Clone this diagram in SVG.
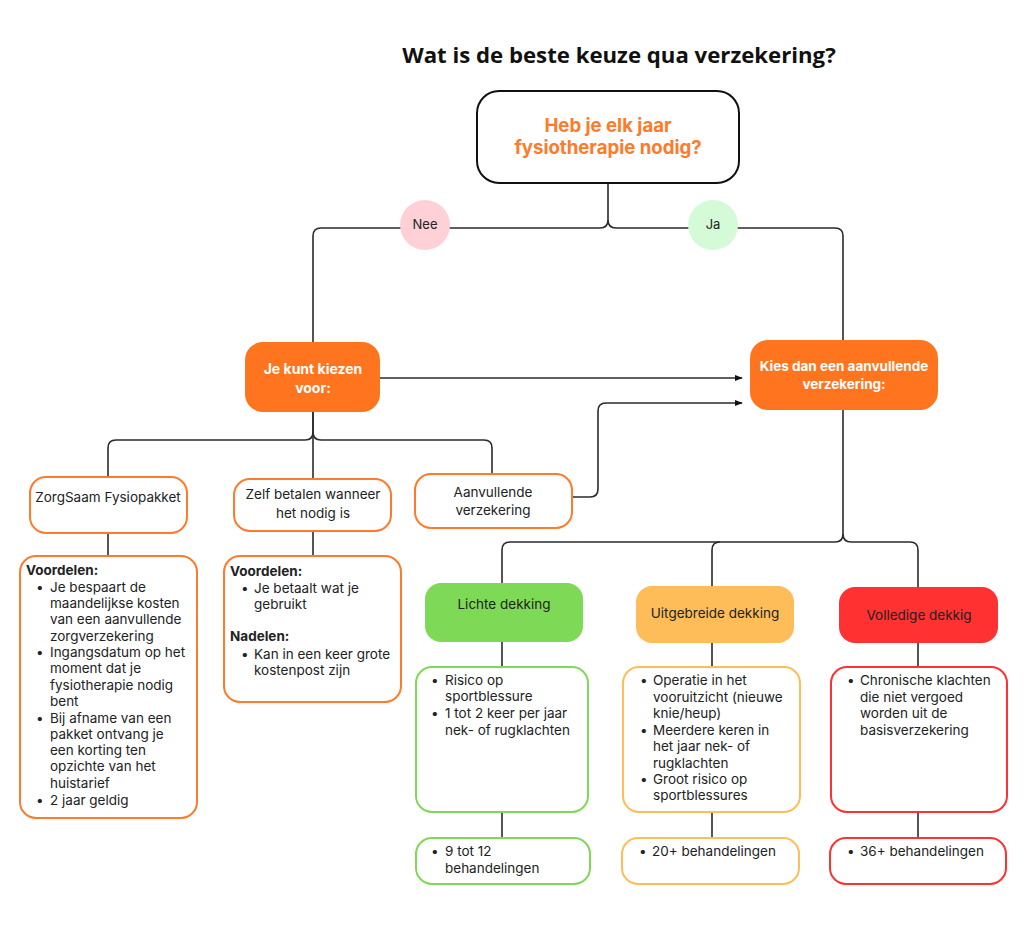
<svg xmlns="http://www.w3.org/2000/svg" width="1024" height="929" viewBox="0 0 1024 929">
<defs>
<style>
.t{font-family:Inter,"DejaVu Sans",sans-serif;font-size:13.5px;fill:#222}
.b{font-weight:700}
.c{text-anchor:middle}
.w{fill:#fff;font-weight:700;font-size:14px}
.ob{fill:#fff;stroke:#FF7A2A;stroke-width:2}
.line{fill:none;stroke:#2b2b2b;stroke-width:1.6}
</style>
<marker id="ah" viewBox="0 0 10 10" refX="9" refY="5" markerWidth="5" markerHeight="5" orient="auto"><path d="M0,1 L10,5 L0,9 z" fill="#111"/></marker>
</defs>
<rect width="1024" height="929" fill="#fff"/>
<text x="619" y="63" class="c" style="font-family:'Open Sans',sans-serif;font-weight:700;font-size:22.2px;fill:#111">Wat is de beste keuze qua verzekering?</text>

<g id="connectors">
<path class="line" d="M608 183 V220 Q608 228 600 228 H321 Q313 228 313 236 V342"/>
<path class="line" d="M608 220 Q608 228 616 228 H835 Q843 228 843 236 V340"/>
<path class="line" d="M380 378 H742" marker-end="url(#ah)"/>
<path class="line" d="M572 497 H590 Q598 497 598 489 V411 Q598 403 606 403 H742" marker-end="url(#ah)"/>
<path class="line" d="M313 412 V432 Q313 440 305 440 H116 Q108 440 108 448 V477"/>
<path class="line" d="M313 432 Q313 440 321 440 H484 Q492 440 492 448 V474"/>
<path class="line" d="M313 412 V479"/>
<path class="line" d="M108 533 V556"/>
<path class="line" d="M313 531 V556"/>
<path class="line" d="M843 410 V534 Q843 542 835 542 H510 Q502 542 502 550 V583"/>
<path class="line" d="M843 534 Q843 542 851 542 H910 Q918 542 918 550 V587"/>
<path class="line" d="M720 542 Q712 542 712 550 V586"/>
<path class="line" d="M502 642 V667 M502 812 V838"/>
<path class="line" d="M712 643 V667 M712 812 V838"/>
<path class="line" d="M918 643 V667 M918 812 V838"/>
</g>

<g id="q1">
<rect x="477" y="91" width="262" height="92" rx="22" fill="#fff" stroke="#111" stroke-width="2"/>
<text x="608" y="132" class="t b c" style="fill:#FF7A2A;font-size:18.6px">Heb je elk jaar</text>
<text x="608" y="154" class="t b c" style="fill:#FF7A2A;font-size:18.6px">fysiotherapie nodig?</text>
</g>
<g id="nee"><circle cx="425" cy="225" r="25" fill="#FFD0D6"/><text x="425" y="229" class="t c" style="font-size:13px">Nee</text></g>
<g id="ja"><circle cx="713" cy="225" r="25" fill="#D5FAD8"/><text x="713" y="229" class="t c" style="font-size:13px">Ja</text></g>

<g id="kiezen">
<rect x="245" y="342" width="135" height="70" rx="18" fill="#FF751F"/>
<text x="313" y="374" class="t c w">Je kunt kiezen</text>
<text x="313" y="393" class="t c w">voor:</text>
</g>
<g id="kies">
<rect x="750" y="340" width="188" height="70" rx="18" fill="#FF751F"/>
<text x="844" y="371" class="t c w" style="font-size:13.5px">Kies dan een aanvullende</text>
<text x="844" y="389" class="t c w" style="font-size:13.5px">verzekering:</text>
</g>

<g id="zorgsaam">
<rect x="30" y="477" width="157" height="56" rx="16" class="ob"/>
<text x="108" y="502" class="t c">ZorgSaam Fysiopakket</text>
</g>
<g id="zelf">
<rect x="234" y="479" width="157" height="52" rx="16" class="ob"/>
<text x="313" y="499" class="t c">Zelf betalen wanneer</text>
<text x="313" y="518" class="t c">het nodig is</text>
</g>
<g id="aanvullende">
<rect x="415" y="474" width="157" height="54" rx="16" class="ob"/>
<text x="493" y="497" class="t c">Aanvullende</text>
<text x="493" y="515" class="t c">verzekering</text>
</g>

<g id="zorgsaam-info">
<rect x="20" y="556" width="177" height="262" rx="16" class="ob"/>
<text x="26" y="575" class="t b">Voordelen:</text>
<text class="t">
<tspan x="36" y="592">•</tspan><tspan x="50" y="592">Je bespaart de</tspan>
<tspan x="50" y="608">maandelijkse kosten</tspan>
<tspan x="50" y="624">van een aanvullende</tspan>
<tspan x="50" y="641">zorgverzekering</tspan>
<tspan x="36" y="657">•</tspan><tspan x="50" y="657">Ingangsdatum op het</tspan>
<tspan x="50" y="673">moment dat je</tspan>
<tspan x="50" y="690">fysiotherapie nodig</tspan>
<tspan x="50" y="706">bent</tspan>
<tspan x="36" y="723">•</tspan><tspan x="50" y="723">Bij afname van een</tspan>
<tspan x="50" y="739">pakket ontvang je</tspan>
<tspan x="50" y="755">een korting ten</tspan>
<tspan x="50" y="771">opzichte van het</tspan>
<tspan x="50" y="788">huistarief</tspan>
<tspan x="36" y="805">•</tspan><tspan x="50" y="805">2 jaar geldig</tspan>
</text>
</g>
<g id="zelf-info">
<rect x="224" y="556" width="177" height="146" rx="16" class="ob"/>
<text x="230" y="576" class="t b">Voordelen:</text>
<text class="t">
<tspan x="241" y="593">•</tspan><tspan x="254" y="593">Je betaalt wat je</tspan>
<tspan x="254" y="609">gebruikt</tspan>
</text>
<text x="230" y="641" class="t b">Nadelen:</text>
<text class="t">
<tspan x="241" y="659">•</tspan><tspan x="254" y="659">Kan in een keer grote</tspan>
<tspan x="254" y="675">kostenpost zijn</tspan>
</text>
</g>

<g id="lichte">
<rect x="425" y="583" width="158" height="59" rx="16" fill="#7ED957"/>
<text x="504" y="609" class="t c">Lichte dekking</text>
</g>
<g id="uitgebreide">
<rect x="636" y="586" width="158" height="57" rx="16" fill="#FFBD59"/>
<text x="715" y="618" class="t c">Uitgebreide dekking</text>
</g>
<g id="volledige">
<rect x="839" y="587" width="159" height="56" rx="16" fill="#FF3131"/>
<text x="919" y="620" class="t c">Volledige dekkig</text>
</g>

<g id="lichte-info">
<rect x="416" y="667" width="172" height="145" rx="16" fill="#fff" stroke="#7ED957" stroke-width="2"/>
<text class="t">
<tspan x="431" y="685">•</tspan><tspan x="445" y="685">Risico op</tspan>
<tspan x="445" y="701">sportblessure</tspan>
<tspan x="431" y="718">•</tspan><tspan x="445" y="718">1 tot 2 keer per jaar</tspan>
<tspan x="445" y="735">nek- of rugklachten</tspan>
</text>
</g>
<g id="lichte-aantal">
<rect x="416" y="838" width="174" height="46" rx="16" fill="#fff" stroke="#7ED957" stroke-width="2"/>
<text class="t"><tspan x="431" y="856">•</tspan><tspan x="445" y="856">9 tot 12</tspan><tspan x="445" y="873">behandelingen</tspan></text>
</g>
<g id="uitgebreide-info">
<rect x="623" y="667" width="177" height="145" rx="16" fill="#fff" stroke="#FFBD59" stroke-width="2"/>
<text class="t">
<tspan x="640" y="685">•</tspan><tspan x="653" y="685">Operatie in het</tspan>
<tspan x="653" y="702">vooruitzicht (nieuwe</tspan>
<tspan x="653" y="718">knie/heup)</tspan>
<tspan x="640" y="735">•</tspan><tspan x="653" y="735">Meerdere keren in</tspan>
<tspan x="653" y="751">het jaar nek- of</tspan>
<tspan x="653" y="768">rugklachten</tspan>
<tspan x="640" y="784">•</tspan><tspan x="653" y="784">Groot risico op</tspan>
<tspan x="653" y="800">sportblessures</tspan>
</text>
</g>
<g id="uitgebreide-aantal">
<rect x="622" y="838" width="177" height="46" rx="16" fill="#fff" stroke="#FFBD59" stroke-width="2"/>
<text class="t"><tspan x="639" y="856">•</tspan><tspan x="652" y="856">20+ behandelingen</tspan></text>
</g>
<g id="volledige-info">
<rect x="831" y="667" width="176" height="145" rx="16" fill="#fff" stroke="#FF3131" stroke-width="2"/>
<text class="t">
<tspan x="847" y="685">•</tspan><tspan x="860" y="685">Chronische klachten</tspan>
<tspan x="860" y="702">die niet vergoed</tspan>
<tspan x="860" y="718">worden uit de</tspan>
<tspan x="860" y="735">basisverzekering</tspan>
</text>
</g>
<g id="volledige-aantal">
<rect x="830" y="838" width="176" height="46" rx="16" fill="#fff" stroke="#FF3131" stroke-width="2"/>
<text class="t"><tspan x="847" y="856">•</tspan><tspan x="860" y="856">36+ behandelingen</tspan></text>
</g>
</svg>
